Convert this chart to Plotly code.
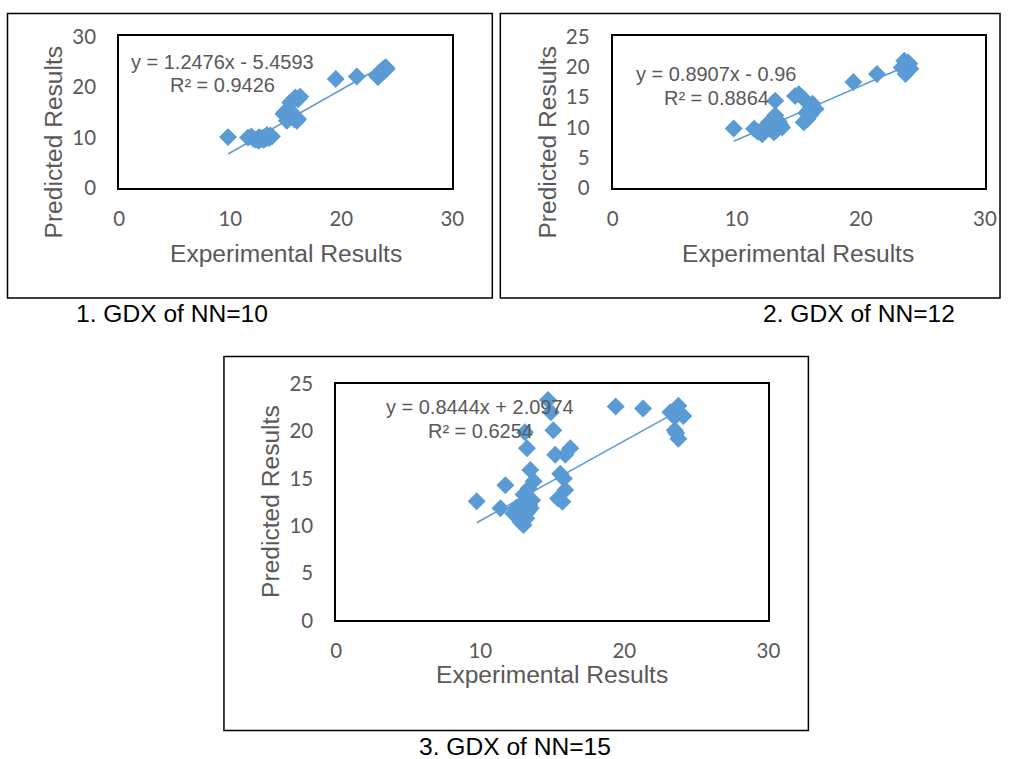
import plotly.graph_objects as go

W, H = 1013, 759

# ---------------- data ----------------
# Chart 1: GDX of NN=10
x1 = [9.8, 11.6, 11.9, 12.1, 12.3, 12.55, 12.6, 12.8, 12.9, 13.0, 13.15, 13.2, 13.3, 13.4, 13.5, 13.6, 13.75,
      14.8, 14.9, 15.1, 15.25, 15.4, 15.55, 15.6, 15.8, 16.0, 16.1, 15.4, 15.6, 15.86, 16.1, 16.3,
      19.5, 21.4, 23.2, 23.3, 23.4, 23.5, 23.6, 23.7, 23.8, 23.9, 24.0, 24.1]
y1 = [10.1, 10.0, 10.2, 9.8, 9.6, 9.4, 10.1, 9.7, 10.0, 9.6, 10.06, 9.8, 10.5, 10.1, 9.9, 10.4, 10.2,
      14.65, 15.0, 13.35, 15.6, 14.0, 14.3, 14.8, 13.6, 13.35, 13.7, 16.96, 17.3, 17.95, 17.6, 18.1,
      21.6, 22.1, 22.3, 22.0, 22.8, 22.5, 23.1, 23.4, 23.0, 23.7, 23.9, 23.6]
slope1, intercept1, r2_1 = 1.2476, -5.4593, 0.9426

# Chart 2: GDX of NN=12
x2 = [9.76, 11.4, 11.7, 12.05, 12.3, 12.6, 12.7, 12.9, 13.0, 13.1, 13.3, 13.4, 13.65, 13.1,
      12.4, 12.8, 13.2, 13.5, 12.2,
      14.7, 15.0, 15.4, 15.4, 15.7, 15.8, 15.9, 16.1, 16.35, 15.6, 16.0,
      19.4, 21.3, 23.3, 23.5, 23.6, 23.7, 23.8, 23.9, 24.0]
y2 = [9.83, 9.8, 9.3, 8.9, 9.5, 10.85, 9.75, 10.3, 9.2, 12.0, 11.2, 10.85, 10.0, 14.4,
      10.2, 10.5, 9.6, 10.4, 9.9,
      15.2, 15.5, 14.7, 10.85, 11.4, 12.8, 12.0, 13.9, 13.05, 12.4, 13.3,
      17.5, 18.8, 19.9, 21.0, 18.8, 19.7, 20.7, 20.5, 19.7]
slope2, intercept2, r2_2 = 0.8907, -0.96, 0.8864

# Chart 3: GDX of NN=15
x3 = [9.75, 11.4, 11.74, 12.3, 12.6, 12.66, 12.8, 13.0, 13.0, 13.1, 13.2, 13.24, 13.35, 13.47, 13.5, 13.6, 13.7,
      12.5, 12.7, 12.9, 13.1, 13.3, 13.4, 13.0, 12.8,
      14.7, 14.9, 15.07, 15.2, 15.4, 15.55, 15.7, 15.8, 15.9, 15.9, 16.25,
      19.4, 21.3, 23.2, 23.5, 23.5, 23.6, 23.75, 23.75, 24.1]
y3 = [12.6, 11.85, 14.3, 11.3, 10.85, 12.0, 10.4, 10.1, 13.3, 19.9, 10.8, 18.2, 13.95, 15.9, 11.85, 12.7, 14.7,
      11.9, 11.6, 10.6, 11.2, 11.5, 12.2, 12.4, 10.9,
      23.3, 22.0, 20.1, 17.5, 12.9, 15.5, 12.55, 15.0, 13.8, 17.5, 18.2,
      22.6, 22.4, 22.0, 21.5, 20.1, 19.8, 22.7, 19.2, 21.6]
slope3, intercept3, r2_3 = 0.8444, 2.0974, 0.6254

x_ticks = [0, 10, 20, 30]
y_ticks_1 = [0, 10, 20, 30]
y_ticks_23 = [0, 5, 10, 15, 20, 25]

captions = ["1. GDX of NN=10", "2. GDX of NN=12", "3. GDX of NN=15"]
x_title = "Experimental Results"
y_title = "Predicted Results"

# ---------------- styling / layout helpers ----------------
BLUE = "#5B9BD5"
GREY = "#595959"
TXT_FONT = "Liberation Sans, Arial, sans-serif"
TICK_FONT = "Lato, Carlito, Calibri, sans-serif"

# the photographed page is shown slightly shrunk and offset; map target
# picture pixels back to page pixels
AX, CX = 0.982, 5.8
AY, CY = 0.970, 10.5
FS = 1 / 0.976  # font / marker compensation


def px(x):
    p = (x - CX) / AX
    return min(max(p, 0.5), W - 1.0) / W


def py(y):
    p = (y - CY) / AY
    return 1 - min(max(p, 0.5), H - 1.0) / H


fig = go.Figure()

charts = [
    dict(x=x1, y=y1, m=slope1, b=intercept1, r2=r2_1, ax="x", ay="y", yticks=y_ticks_1, yr=[0, 30],
         box=(119, 34, 452, 186), frame=(7.3, 6.7, 492, 296),
         eq=(222, 60, 83), xt=(285.5, 251.7), yt=(53, 140), cap=(171.7, 311.7)),
    dict(x=x2, y=y2, m=slope2, b=intercept2, r2=r2_2, ax="x2", ay="y2", yticks=y_ticks_23, yr=[0, 25],
         box=(612.3, 34, 984.5, 186), frame=(500, 6.7, 1009, 296),
         eq=(716, 72, 96), xt=(798, 251.7), yt=(547, 140), cap=(859, 311.7)),
    dict(x=x3, y=y3, m=slope3, b=intercept3, r2=r2_3, ax="x3", ay="y3", yticks=y_ticks_23, yr=[0, 25],
         box=(336, 382, 768, 619), frame=(223.7, 354.7, 808, 729.3),
         eq=(480, 405, 429), xt=(552, 673), yt=(270, 500), cap=(515, 745)),
]

annotations = []
shapes = []
for i, c in enumerate(charts):
    fig.add_trace(go.Scatter(
        x=c["x"], y=c["y"], mode="markers", xaxis=c["ax"], yaxis=c["ay"],
        marker=dict(symbol="diamond", size=13.5 * FS, color=BLUE, line=dict(width=0)),
        showlegend=False, hoverinfo="x+y"))
    xmin, xmax = min(c["x"]), max(c["x"])
    fig.add_trace(go.Scatter(
        x=[xmin, xmax], y=[c["m"] * xmin + c["b"], c["m"] * xmax + c["b"]],
        mode="lines", xaxis=c["ax"], yaxis=c["ay"],
        line=dict(color=BLUE, width=1.5), showlegend=False, hoverinfo="skip"))

    x0, y0, x1b, y1b = c["box"]
    suffix = "" if i == 0 else str(i + 1)
    common = dict(showgrid=False, zeroline=False, showline=True, mirror=True,
                  linecolor="black", linewidth=2, ticks="",
                  tickfont=dict(family=TICK_FONT, size=20 * FS, color=GREY))
    fig.update_layout(**{
        "xaxis" + suffix: dict(domain=[px(x0), px(x1b)], range=[0, 30], tickvals=x_ticks,
                               anchor="y" + suffix, ticklabelstandoff=11, **common),
        "yaxis" + suffix: dict(domain=[py(y1b), py(y0)], range=c["yr"], tickvals=c["yticks"],
                               anchor="x" + suffix, ticklabelstandoff=17, **common),
    })

    m, b = c["m"], c["b"]
    sign = "-" if b < 0 else "+"
    eq_text = f"y = {m:g}x {sign} {abs(b):g}"
    ex, ey1, ey2 = c["eq"]
    eq_font = dict(family=TXT_FONT, size=19.5 * FS, color=GREY)
    annotations.append(dict(x=px(ex), y=py(ey1), xref="paper", yref="paper", text=eq_text,
                            showarrow=False, xanchor="center", yanchor="middle", font=eq_font))
    annotations.append(dict(x=px(ex), y=py(ey2), xref="paper", yref="paper", text=f"R² = {c['r2']:g}",
                            showarrow=False, xanchor="center", yanchor="middle", font=eq_font))
    title_font = dict(family=TXT_FONT, size=24 * FS, color=GREY)
    annotations.append(dict(x=px(c["xt"][0]), y=py(c["xt"][1]), xref="paper", yref="paper", text=x_title,
                            showarrow=False, xanchor="center", yanchor="middle", font=title_font))
    annotations.append(dict(x=px(c["yt"][0]), y=py(c["yt"][1]), xref="paper", yref="paper", text=y_title,
                            showarrow=False, xanchor="center", yanchor="middle", textangle=-90,
                            font=title_font))
    annotations.append(dict(x=px(c["cap"][0]), y=py(c["cap"][1]), xref="paper", yref="paper",
                            text=captions[i], showarrow=False, xanchor="center", yanchor="middle",
                            font=dict(family=TXT_FONT, size=24 * FS, color="black")))
    fx0, fy0, fx1, fy1 = c["frame"]
    shapes.append(dict(type="rect", xref="paper", yref="paper", x0=px(fx0), x1=px(fx1),
                       y0=py(fy1), y1=py(fy0), line=dict(color="black", width=1.5)))

fig.update_layout(
    width=W, height=H, margin=dict(l=0, r=0, t=0, b=0),
    paper_bgcolor="white", plot_bgcolor="white",
    annotations=annotations, shapes=shapes, showlegend=False,
)

fig.write_html(
    "out.html",
    config={"displayModeBar": False},
    post_script=("document.documentElement.style.margin='0px';"
                 "document.body.style.margin='0px';document.body.style.padding='0px';"
                 "document.body.style.overflow='hidden';"),
)
